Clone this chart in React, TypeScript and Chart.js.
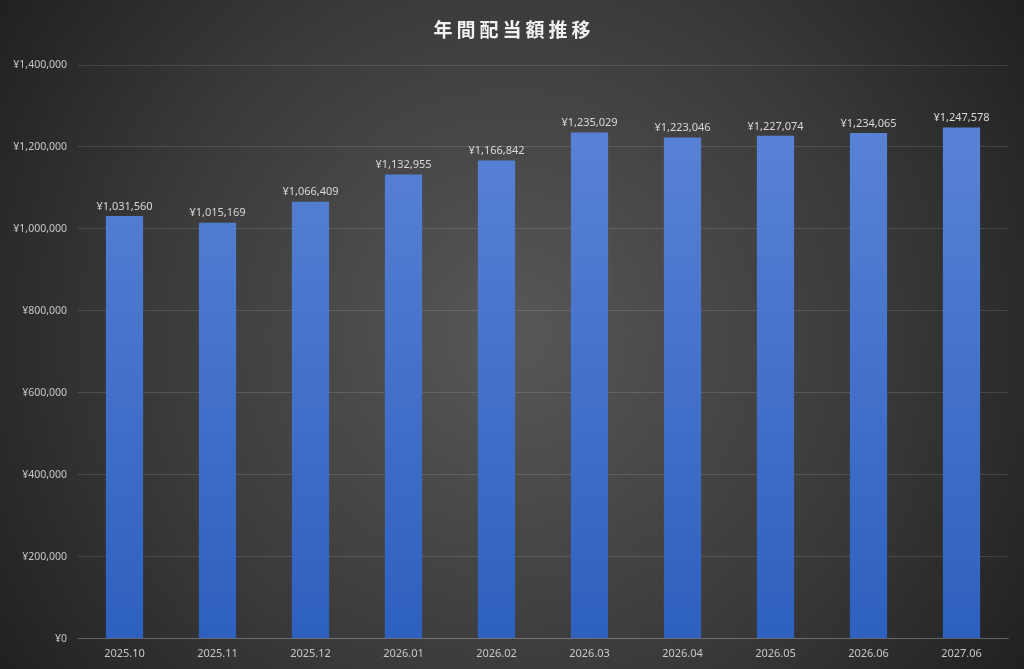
import { useEffect, useRef } from 'react';
import { Chart, registerables } from 'chart.js';

Chart.register(...registerables);

const title = '年間配当額推移';
const months = ['2025.10', '2025.11', '2025.12', '2026.01', '2026.02', '2026.03', '2026.04', '2026.05', '2026.06', '2027.06'];
const dividends = [1031560, 1015169, 1066409, 1132955, 1166842, 1235029, 1223046, 1227074, 1234065, 1247578];
const yMax = 1400000;
const yStep = 200000;

const yen = (v: number) => '¥' + v.toLocaleString('en-US');
const numFont = '"Noto Sans", "Noto Sans CJK JP", sans-serif';

const backdrop = {
  id: 'backdrop',
  beforeDraw(chart: Chart) {
    const { ctx, width, height } = chart;
    const g = ctx.createRadialGradient(width * 0.5, height * 0.5, 20, width * 0.5, height * 0.5, width * 0.62);
    g.addColorStop(0, '#565656');
    g.addColorStop(0.55, '#3a3a3a');
    g.addColorStop(1, '#1e1e1e');
    ctx.save();
    ctx.fillStyle = g;
    ctx.fillRect(0, 0, width, height);
    ctx.restore();
  },
};

const heading = {
  id: 'heading',
  afterDraw(chart: Chart) {
    const { ctx, width } = chart;
    ctx.save();
    ctx.font = 'bold 19px "Noto Sans CJK JP", sans-serif';
    (ctx as any).letterSpacing = '4px';
    ctx.fillStyle = '#f2f2f2';
    ctx.textAlign = 'center';
    ctx.textBaseline = 'middle';
    ctx.fillText(title, width / 2 + 2, 30);
    ctx.restore();
  },
};

const valueLabels = {
  id: 'valueLabels',
  afterDatasetsDraw(chart: Chart) {
    const { ctx } = chart;
    const meta = chart.getDatasetMeta(0);
    ctx.save();
    ctx.font = `11px ${numFont}`;
    ctx.fillStyle = '#d9d9d9';
    ctx.textAlign = 'center';
    ctx.textBaseline = 'bottom';
    meta.data.forEach((bar: any, i) => {
      ctx.fillText(yen(dividends[i]), bar.x, bar.y - 4);
    });
    ctx.restore();
  },
};

export default function App() {
  const canvasRef = useRef<HTMLCanvasElement>(null);
  const chartRef = useRef<Chart | null>(null);

  useEffect(() => {
    if (!canvasRef.current) return;
    chartRef.current?.destroy();

    chartRef.current = new Chart(canvasRef.current, {
      type: 'bar',
      data: {
        labels: months,
        datasets: [
          {
            label: title,
            data: dividends,
            backgroundColor: (c: any) => {
              const area = c.chart.chartArea;
              if (!area) return '#4672cc';
              const g = c.chart.ctx.createLinearGradient(0, area.top, 0, area.bottom);
              g.addColorStop(0, '#5d86d8');
              g.addColorStop(1, '#2e60bf');
              return g;
            },
            barPercentage: 0.4,
            categoryPercentage: 1,
          },
        ],
      },
      options: {
        animation: false,
        responsive: true,
        maintainAspectRatio: false,
        layout: { padding: { top: 65, left: 4, right: 16, bottom: 9 } },
        plugins: {
          legend: { display: false },
          title: { display: false },
          tooltip: { enabled: false },
        },
        scales: {
          x: {
            grid: { display: false },
            border: { color: 'rgba(255,255,255,0.18)' },
            ticks: { color: '#c8c8c8', font: { size: 11, family: numFont }, padding: 0 },
          },
          y: {
            min: 0,
            max: yMax,
            afterFit: (s: any) => {
              s.width = 74;
            },
            border: { display: false },
            grid: { color: 'rgba(255,255,255,0.13)', tickLength: 0 },
            ticks: {
              stepSize: yStep,
              color: '#c8c8c8',
              padding: 11,
              font: { size: 10.5, family: numFont },
              callback: (v: any) => yen(Number(v)),
            },
          },
        },
      },
      plugins: [backdrop, heading, valueLabels],
    });

    return () => chartRef.current?.destroy();
  }, []);

  return (
    <div style={{ position: 'fixed', left: 0, top: 0, width: 1024, height: 669 }}>
      <canvas ref={canvasRef} />
    </div>
  );
}
